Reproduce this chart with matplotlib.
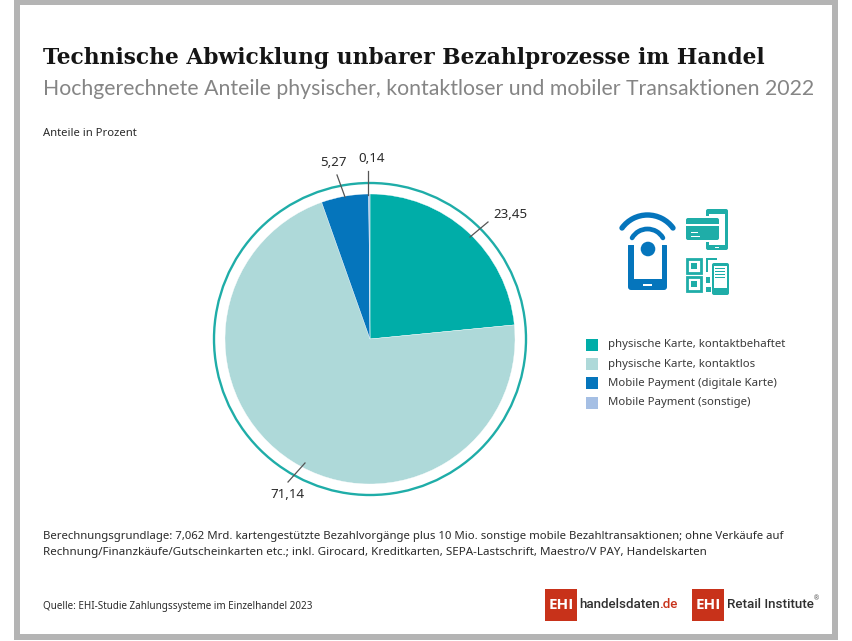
import numpy as np
import matplotlib
matplotlib.use("Agg")
import matplotlib.pyplot as plt
from matplotlib.patches import Rectangle, Circle, FancyBboxPatch, Arc

W, H = 852, 641

labels = ["physische Karte, kontaktbehaftet", "physische Karte, kontaktlos",
          "Mobile Payment (digitale Karte)", "Mobile Payment (sonstige)"]
values = [23.45, 71.14, 5.27, 0.14]
value_labels = ["23,45", "71,14", "5,27", "0,14"]
colors = ["#00ADA8", "#AED9D9", "#0575BC", "#A5BFE4"]

title = "Technische Abwicklung unbarer Bezahlprozesse im Handel"
subtitle = "Hochgerechnete Anteile physischer, kontaktloser und mobiler Transaktionen 2022"
unit = "Anteile in Prozent"
note1 = "Berechnungsgrundlage: 7,062 Mrd. kartengestützte Bezahlvorgänge plus 10 Mio. sonstige mobile Bezahltransaktionen; ohne Verkäufe auf"
note2 = "Rechnung/Finanzkäufe/Gutscheinkarten etc.; inkl. Girocard, Kreditkarten, SEPA-Lastschrift, Maestro/V PAY, Handelskarten"
source = "Quelle: EHI-Studie Zahlungssysteme im Einzelhandel 2023"

TEAL = "#1FADA8"
BLUE = "#0575BC"
RED = "#C8321A"
TXT = "#2A2A2A"


def Y(py):
    return H - py


def rrect(ax, x, y, w, h, color, r=2, z=3):
    ax.add_patch(FancyBboxPatch((x, Y(y + h)), w, h, boxstyle=f"round,pad=0,rounding_size={r}",
                                fc=color, ec="none", zorder=z))


def rect(ax, x, y, w, h, color, z=3):
    ax.add_patch(Rectangle((x, Y(y + h)), w, h, fc=color, ec="none", zorder=z))


fig = plt.figure(figsize=(W / 100, H / 100), dpi=100)
ax = fig.add_axes([0, 0, 1, 1])

# pie
cx, cy, r = 370, 339, 145
wedges, _ = ax.pie(values, colors=colors, startangle=90, counterclock=False, center=(cx, Y(cy)),
                   radius=r, frame=True, wedgeprops=dict(linewidth=0.25, edgecolor="white", zorder=3))
ax.set_xlim(0, W)
ax.set_ylim(0, H)
ax.set_aspect("equal")
ax.axis("off")
ax.add_patch(Circle((cx, Y(cy)), 156, fc="none", ec=TEAL, lw=1.7, zorder=3))

# grey frame
rect(ax, 14, 0, 824, 640, "#B4B4B4", z=0)
rect(ax, 20, 5, 812, 629, "white", z=1)

ax.text(43, Y(64), title, family="DejaVu Serif", weight="bold", fontsize=15.7, color="#151515", zorder=5)
ax.text(43, Y(95), subtitle, family="Lato", fontsize=15.35, color="#858585", zorder=5)
ax.text(43, Y(133), unit, family="Noto Sans", fontsize=8.1, color=TXT, va="center", zorder=5)

# leader lines and value labels
text_pos = [(510, 214), (287, 495), (333, 162), (372, 158)]
lead_from = [(470, 237), (305, 463), (345, 197), (368, 195)]
lead_to = [(488, 222), (288, 482), (337, 175), (368, 171)]
for i, v in enumerate(values):
    ax.plot([lead_from[i][0], lead_to[i][0]], [Y(lead_from[i][1]), Y(lead_to[i][1])],
            color="#555555", lw=0.9, zorder=4)
    ax.text(text_pos[i][0], Y(text_pos[i][1]), value_labels[i], family="Noto Sans", fontsize=9.6,
            color=TXT, ha="center", va="center", zorder=5)

# legend
for i, lab in enumerate(labels):
    py = 345 + i * 19.2
    rect(ax, 586, py - 6, 12, 12, colors[i])
    ax.text(608, Y(py), lab, family="Noto Sans", fontsize=8.2, color="#3A3A3A", va="center", zorder=5)

# phone with wifi icon
rrect(ax, 628, 243, 39, 47, BLUE, r=3)
rect(ax, 634, 241, 28, 38, "white", z=3.1)
rect(ax, 628, 241, 6, 4, "white", z=3.05)
rect(ax, 661, 241, 6, 4, "white", z=3.05)
rect(ax, 643, 284, 9, 2, "white", z=3.2)
ax.add_patch(Arc((647.5, Y(246.5)), 63, 63, theta1=36, theta2=144,
                 ec=BLUE, lw=3.9, zorder=3.3, capstyle="round"))
ax.add_patch(Arc((647.5, Y(246.8)), 35.6, 35.6, theta1=30, theta2=150,
                 ec=BLUE, lw=3.4, zorder=3.3, capstyle="round"))
ax.add_patch(Circle((648, Y(249)), 7.3, fc=BLUE, ec="none", zorder=3.4))

# card and phone icon
rrect(ax, 706, 209, 22, 41, TEAL, r=2)
rect(ax, 709, 214, 16, 31, "white", z=3.1)
rect(ax, 715, 247, 4, 1.2, "white", z=3.2)
rect(ax, 705, 216, 16, 26, "white", z=3.25)
rrect(ax, 686, 218, 33, 22, TEAL, r=2, z=3.4)
rect(ax, 686, 224, 33, 1.6, "white", z=3.5)
rect(ax, 691, 232, 7, 1.2, "white", z=3.5)
rect(ax, 691, 235.5, 9, 1.2, "white", z=3.5)

# qr icon
for qx, qy in [(686, 258), (686, 276)]:
    ax.add_patch(Rectangle((qx + 1, Y(qy + 15)), 14, 14, fc="none", ec=TEAL, lw=2, zorder=3))
    rect(ax, qx + 5, qy + 5, 6, 6, TEAL, z=3.1)
rect(ax, 706, 258, 11, 2, TEAL)
rect(ax, 706, 258, 2, 14, TEAL)
rect(ax, 706, 277, 4, 6, TEAL)
rect(ax, 706, 287, 5, 5, TEAL)
rrect(ax, 712, 263, 17, 32, TEAL, r=2, z=3.2)
rect(ax, 714, 266, 13, 22, "white", z=3.3)
for ly in [268, 271, 274, 277]:
    rect(ax, 715, ly, 10, 1.2, TEAL, z=3.4)

# notes
ax.text(43, Y(537), note1, family="Noto Sans", fontsize=8.15, color=TXT, va="center", zorder=5)
ax.text(43, Y(552), note2, family="Noto Sans", fontsize=8.35, color=TXT, va="center", zorder=5)
ax.text(43, Y(606), source, family="Noto Sans", fontsize=7.1, color=TXT, va="center", zorder=5)

# logos
rect(ax, 545, 589, 32, 32, RED)
ax.text(561, Y(605), "EHI", family="Open Sans", weight="bold", fontsize=11, color="white", ha="center", va="center", zorder=5)
ax.text(579, Y(605), "handelsdaten", family="Roboto", weight="medium", fontsize=9.6, color="#303030", va="center", zorder=5)
ax.text(677, Y(605), ".de", family="Roboto", weight="medium", fontsize=9.6, color=RED, ha="right", va="center", zorder=5)
rect(ax, 692, 589, 32, 32, RED)
ax.text(708, Y(605), "EHI", family="Open Sans", weight="bold", fontsize=11, color="white", ha="center", va="center", zorder=5)
ax.text(727, Y(605), "Retail Institute", family="Roboto", weight="medium", fontsize=9.6, color="#303030", va="center", zorder=5)
ax.text(814, Y(600), "®", family="Noto Sans", fontsize=4.5, color="#555555", zorder=5)

fig.savefig("out.png", dpi=100)
